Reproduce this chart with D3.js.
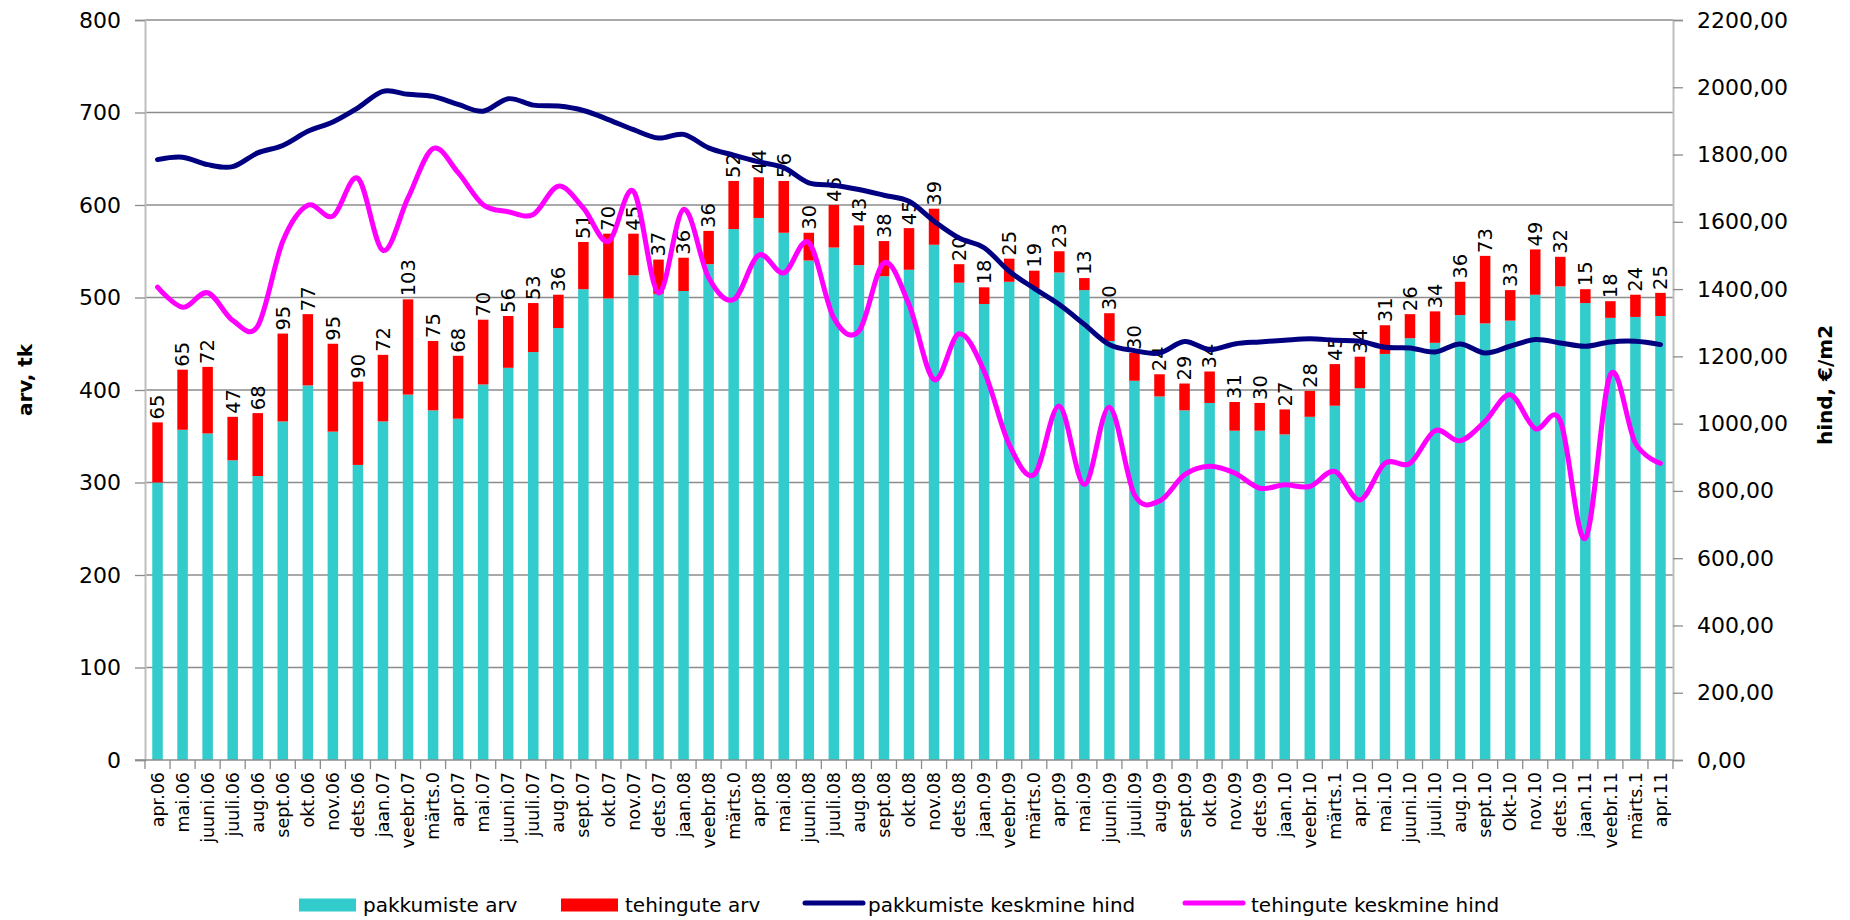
<!DOCTYPE html>
<html>
<head>
<meta charset="utf-8">
<script src="https://cdn.jsdelivr.net/npm/d3@7"></script>
<style>
  body { margin: 0; background: #fff; }
  svg { display: block; font-family: "DejaVu Sans", sans-serif; }
</style>
</head>
<body>
<svg width="1850" height="920"></svg>
<script>
var months = ["apr.06", "mai.06", "juuni.06", "juuli.06", "aug.06", "sept.06", "okt.06", "nov.06", "dets.06",
    "jaan.07", "veebr.07", "märts.0", "apr.07", "mai.07", "juuni.07", "juuli.07", "aug.07", "sept.07", "okt.07",
    "nov.07", "dets.07", "jaan.08", "veebr.08", "märts.0", "apr.08", "mai.08", "juuni.08", "juuli.08", "aug.08",
    "sept.08", "okt.08", "nov.08", "dets.08", "jaan.09", "veebr.09", "märts.0", "apr.09", "mai.09", "juuni.09",
    "juuli.09", "aug.09", "sept.09", "okt.09", "nov.09", "dets.09", "jaan.10", "veebr.10", "märts.1", "apr.10",
    "mai.10", "juuni.10", "juuli.10", "aug.10", "sept.10", "Okt-10", "nov.10", "dets.10", "jaan.11", "veebr.11",
    "märts.1", "apr.11"];

// pakkumiste arv (cyan)
var pakkumisteArv = [300, 357, 353, 324, 307, 366, 405, 355, 319, 366,
    395, 378, 369, 406, 424, 441, 467, 509, 499, 524,
    504, 507, 536, 574, 586, 570, 540, 554, 535, 523,
    530, 557, 516, 493, 517, 510, 527, 508, 453, 410,
    393, 378, 386, 356, 356, 352, 371, 383, 402, 439,
    456, 451, 481, 472, 475, 503, 512, 494, 478, 479, 480];

// tehingute arv (red, also the labels)
var tehinguteArv = [65, 65, 72, 47, 68, 95, 77, 95, 90, 72,
    103, 75, 68, 70, 56, 53, 36, 51, 70, 45,
    37, 36, 36, 52, 44, 56, 30, 46, 43, 38,
    45, 39, 20, 18, 25, 19, 23, 13, 30, 30,
    24, 29, 34, 31, 30, 27, 28, 45, 34, 31,
    26, 34, 36, 73, 33, 49, 32, 15, 18, 24, 25];

// pakkumiste keskmine hind, €/m2
var pakkumisteHind = [1785, 1792, 1770, 1764, 1805, 1827, 1869, 1897, 1939, 1988,
    1979, 1973, 1949, 1929, 1966, 1947, 1944, 1931, 1904, 1874,
    1849, 1860, 1820, 1798, 1778, 1761, 1716, 1709, 1696, 1679,
    1661, 1602, 1552, 1523, 1453, 1402, 1354, 1295, 1235, 1217,
    1210, 1244, 1220, 1237, 1243, 1248, 1252, 1248, 1245, 1227,
    1225, 1213, 1237, 1210, 1230, 1250, 1240, 1230, 1243, 1245, 1235];

// tehingute keskmine hind, €/m2
var tehinguteHind = [1406, 1346, 1389, 1307, 1290, 1542, 1649, 1617, 1729, 1515,
    1671, 1818, 1746, 1651, 1630, 1622, 1706, 1641, 1542, 1691,
    1389, 1637, 1434, 1369, 1501, 1448, 1538, 1314, 1275, 1478,
    1354, 1131, 1267, 1156, 938, 849, 1052, 819, 1049, 789,
    770, 848, 873, 853, 808, 818, 813, 858, 773, 882,
    882, 979, 949, 1007, 1086, 985, 1009, 659, 1146, 942, 882];

var leftTicks = [0, 100, 200, 300, 400, 500, 600, 700, 800];
var rightTicks = [0, 200, 400, 600, 800, 1000, 1200, 1400, 1600, 1800, 2000, 2200];

var plotLeft = 145, plotRight = 1673, plotTop = 20, plotBottom = 760;

var svg = d3.select("svg");

var x = d3.scaleBand()
    .domain(months.map(function(d, i) { return i; }))
    .range([plotLeft, plotRight])
    .paddingInner(0.58)
    .paddingOuter(0.29);

var yL = d3.scaleLinear().domain([0, 800]).range([plotBottom, plotTop]);
var yR = d3.scaleLinear().domain([0, 2200]).range([plotBottom, plotTop]);

var step = x.step();
function cx(i) { return x(i) + x.bandwidth() / 2; }

// gridlines
svg.append("g")
    .selectAll("line")
    .data(leftTicks.slice(1))
    .enter().append("line")
    .attr("x1", plotLeft).attr("x2", plotRight)
    .attr("y1", function(d) { return yL(d); })
    .attr("y2", function(d) { return yL(d); })
    .attr("stroke", "#8c8c8c")
    .attr("stroke-width", 1.3);

// left axis
var axL = svg.append("g")
    .attr("transform", "translate(" + plotLeft + ",0)")
    .call(d3.axisLeft(yL).tickValues(leftTicks).tickSize(10).tickPadding(14));
axL.select(".domain").attr("stroke", "#bfbfbf").attr("stroke-width", 2);
axL.selectAll(".tick line").attr("stroke", "#8c8c8c").attr("stroke-width", 1.3);
axL.selectAll("text").attr("font-size", 22).attr("font-family", "DejaVu Sans").attr("fill", "#000");

// right axis
var axR = svg.append("g")
    .attr("transform", "translate(" + plotRight + ",0)")
    .call(d3.axisRight(yR).tickValues(rightTicks).tickSize(10).tickPadding(14)
        .tickFormat(function(d) { return d3.format(".2f")(d).replace(".", ","); }));
axR.select(".domain").attr("stroke", "#bfbfbf").attr("stroke-width", 2);
axR.selectAll(".tick line").attr("stroke", "#8c8c8c").attr("stroke-width", 1.3);
axR.selectAll("text").attr("font-size", 22).attr("font-family", "DejaVu Sans").attr("fill", "#000");

// bars
var bars = svg.append("g");
bars.selectAll("rect.pak")
    .data(pakkumisteArv)
    .enter().append("rect")
    .attr("x", function(d, i) { return x(i); })
    .attr("width", x.bandwidth())
    .attr("y", function(d) { return yL(d); })
    .attr("height", function(d) { return yL(0) - yL(d); })
    .attr("fill", "#33cccc");

bars.selectAll("rect.teh")
    .data(tehinguteArv)
    .enter().append("rect")
    .attr("x", function(d, i) { return x(i); })
    .attr("width", x.bandwidth())
    .attr("y", function(d, i) { return yL(pakkumisteArv[i] + d); })
    .attr("height", function(d, i) { return yL(pakkumisteArv[i]) - yL(pakkumisteArv[i] + d); })
    .attr("fill", "#ff0000");

// bottom axis line + ticks
svg.append("line")
    .attr("x1", plotLeft - 10).attr("x2", plotRight)
    .attr("y1", plotBottom).attr("y2", plotBottom)
    .attr("stroke", "#8c8c8c").attr("stroke-width", 1.5);

svg.append("g")
    .selectAll("line")
    .data(d3.range(months.length + 1))
    .enter().append("line")
    .attr("x1", function(i) { return plotLeft + i * step; })
    .attr("x2", function(i) { return plotLeft + i * step; })
    .attr("y1", plotBottom).attr("y2", plotBottom + 9)
    .attr("stroke", "#8c8c8c").attr("stroke-width", 1.3);

svg.append("g")
    .selectAll("text")
    .data(months)
    .enter().append("text")
    .attr("transform", function(d, i) { return "translate(" + cx(i) + "," + (plotBottom + 12) + ") rotate(-90)"; })
    .attr("dy", "0.35em")
    .attr("text-anchor", "end")
    .attr("font-size", 17.5)
    .text(function(d) { return d; });

// data labels
svg.append("g")
    .selectAll("text")
    .data(tehinguteArv)
    .enter().append("text")
    .attr("transform", function(d, i) {
        return "translate(" + cx(i) + "," + (yL(pakkumisteArv[i] + d) - 3) + ") rotate(-90)";
    })
    .attr("dy", "0.35em")
    .attr("text-anchor", "start")
    .attr("font-size", 19.5)
    .text(function(d) { return d; });

// lines
var line = d3.line()
    .x(function(d, i) { return cx(i); })
    .y(function(d) { return yR(d); })
    .curve(d3.curveCardinal.tension(0));

svg.append("path")
    .datum(tehinguteHind)
    .attr("d", line)
    .attr("fill", "none")
    .attr("stroke", "#ff00ff")
    .attr("stroke-width", 5)
    .attr("stroke-linecap", "round")
    .attr("stroke-linejoin", "round");

svg.append("path")
    .datum(pakkumisteHind)
    .attr("d", line)
    .attr("fill", "none")
    .attr("stroke", "#000080")
    .attr("stroke-width", 5)
    .attr("stroke-linecap", "round")
    .attr("stroke-linejoin", "round");

// axis titles
svg.append("text")
    .attr("transform", "translate(25,380) rotate(-90)")
    .attr("dy", "0.35em")
    .attr("text-anchor", "middle")
    .attr("font-size", 20)
    .attr("font-weight", "bold")
    .text("arv, tk");

svg.append("text")
    .attr("transform", "translate(1825,385) rotate(-90)")
    .attr("dy", "0.35em")
    .attr("text-anchor", "middle")
    .attr("font-size", 20)
    .attr("font-weight", "bold")
    .text("hind, €/m2");

// legend
var legendY = 905;
var legendItems = [
    {name: "pakkumiste arv", color: "#33cccc", type: "rect", x: 299, tx: 363},
    {name: "tehingute arv", color: "#ff0000", type: "rect", x: 561, tx: 625},
    {name: "pakkumiste keskmine hind", color: "#000080", type: "line", x: 805, tx: 868},
    {name: "tehingute keskmine hind", color: "#ff00ff", type: "line", x: 1185, tx: 1251}
];
var lg = svg.append("g");
legendItems.forEach(function(it) {
    if (it.type === "rect") {
        lg.append("rect")
            .attr("x", it.x).attr("y", legendY - 6.5)
            .attr("width", 57).attr("height", 13)
            .attr("fill", it.color);
    } else {
        lg.append("line")
            .attr("x1", it.x).attr("x2", it.x + 58)
            .attr("y1", legendY - 2).attr("y2", legendY - 2)
            .attr("stroke", it.color).attr("stroke-width", 5)
            .attr("stroke-linecap", "round");
    }
    lg.append("text")
        .attr("x", it.tx).attr("y", legendY)
        .attr("dy", "0.35em")
        .attr("font-size", 20)
        .text(it.name);
});
</script>
</body>
</html>
